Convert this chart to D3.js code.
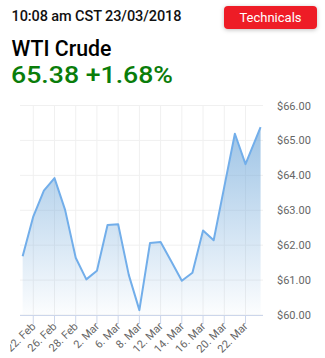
<!DOCTYPE html>
<html>
<head>
<meta charset="utf-8">
<script src="https://cdn.jsdelivr.net/npm/d3@7"></script>
<style>
  body { margin: 0; background: #fff; font-family: Roboto, "Open Sans", sans-serif; }
  svg text { font-family: Roboto, "Open Sans", sans-serif; }
</style>
</head>
<body>
<svg id="chart" width="325" height="358"></svg>
<script>
// trading days shown on the ordinal axis
var days = ["2018-02-21", "2018-02-22", "2018-02-23", "2018-02-26", "2018-02-27", "2018-02-28",
    "2018-03-01", "2018-03-02", "2018-03-05", "2018-03-06", "2018-03-07", "2018-03-08",
    "2018-03-09", "2018-03-12", "2018-03-13", "2018-03-14", "2018-03-15", "2018-03-16",
    "2018-03-19", "2018-03-20", "2018-03-21", "2018-03-22", "2018-03-23"];
var times = ["00:00", "00:00", "00:00", "00:00", "00:00", "00:00", "00:00", "00:00", "00:00",
    "00:00", "00:00", "00:00", "00:00", "00:00", "00:00", "00:00", "00:00", "00:00", "00:00",
    "00:00", "00:00", "00:00", "10:08"];
var prices = [61.68, 62.82, 63.56, 63.92, 63.01, 61.64, 61.02, 61.27, 62.58, 62.60, 61.15, 60.14,
    62.06, 62.09, 61.54, 60.98, 61.21, 62.42, 62.14, 63.67, 65.19, 64.32, 65.38];
var tickDays = ["2018-02-22", "2018-02-26", "2018-02-28", "2018-03-02", "2018-03-06", "2018-03-08",
    "2018-03-12", "2018-03-14", "2018-03-16", "2018-03-20", "2018-03-22"];
var yTicks = [60, 61, 62, 63, 64, 65, 66];

var stamp = "10:08 am CST 23/03/2018";
var title = "WTI Crude";
var quote = "65.38 +1.68%";

var svg = d3.select("#chart");

// ordinal position: index of the trading day + fraction of the day
function ordinal(day, time) {
    var t = time.split(":");
    return days.indexOf(day) + (+t[0] + t[1] / 60) / 24;
}
var data = days.map(function(d, i) {
    return { x: ordinal(d, times[i]), y: prices[i] };
});

var plotLeft = 20, plotRight = 263, plotTop = 105.5, plotBottom = 315;

var x = d3.scaleLinear()
    .domain([-0.25, 22.65])
    .range([plotLeft, plotRight]);
var y = d3.scaleLinear()
    .domain([60, 66])
    .range([plotBottom, plotTop]);

////////////// header
svg.append("text")
    .attr("x", 11.5).attr("y", 21)
    .attr("font-size", 14.5).attr("font-weight", 500)
    .attr("textLength", 170).attr("lengthAdjust", "spacing")
    .attr("fill", "#111")
    .text(stamp);

var defs = svg.append("defs");
var shadow = defs.append("filter").attr("id", "shadow")
    .attr("x", "-20%").attr("y", "-40%").attr("width", "140%").attr("height", "180%");
shadow.append("feDropShadow")
    .attr("dx", 0).attr("dy", 1).attr("stdDeviation", 2)
    .attr("flood-color", "#000").attr("flood-opacity", 0.25);

svg.append("rect")
    .attr("x", 224).attr("y", 6).attr("width", 93).attr("height", 23)
    .attr("rx", 4)
    .attr("fill", "#ee1c25")
    .attr("filter", "url(#shadow)");
svg.append("text")
    .attr("x", 270.5).attr("y", 22)
    .attr("text-anchor", "middle")
    .attr("font-size", 13)
    .attr("fill", "#fff")
    .text("Technicals");

svg.append("text")
    .attr("x", 11.5).attr("y", 55.5)
    .attr("font-size", 22.5).attr("font-weight", 500)
    .attr("textLength", 100).attr("lengthAdjust", "spacingAndGlyphs")
    .attr("fill", "#000")
    .text(title);
svg.append("text")
    .attr("x", 11).attr("y", 82.5)
    .attr("font-size", 24.5).attr("font-weight", 500)
    .attr("textLength", 162).attr("lengthAdjust", "spacingAndGlyphs")
    .attr("fill", "#0a7d0a")
    .text(quote);

////////////// grid
var tickX = tickDays.map(function(d) { return x(ordinal(d, "00:00")); });

svg.append("g")
    .selectAll("line")
    .data(tickX)
    .enter().append("line")
    .attr("x1", function(d) { return d; })
    .attr("x2", function(d) { return d; })
    .attr("y1", plotTop).attr("y2", plotBottom)
    .attr("stroke", "#f0f0f0");

svg.append("g")
    .selectAll("line")
    .data(yTicks)
    .enter().append("line")
    .attr("x1", plotLeft).attr("x2", plotRight)
    .attr("y1", function(d) { return y(d); })
    .attr("y2", function(d) { return y(d); })
    .attr("stroke", "#f0f0f0");

////////////// area + line
var grad = defs.append("linearGradient")
    .attr("id", "fill")
    .attr("gradientUnits", "userSpaceOnUse")
    .attr("x1", 0).attr("x2", 0)
    .attr("y1", plotTop).attr("y2", plotBottom);
grad.append("stop").attr("offset", "0%").attr("stop-color", "#6fa7d9").attr("stop-opacity", 0.75);
grad.append("stop").attr("offset", "100%").attr("stop-color", "#6fa7d9").attr("stop-opacity", 0.02);

var area = d3.area()
    .x(function(d) { return x(d.x); })
    .y0(plotBottom)
    .y1(function(d) { return y(d.y); });
var line = d3.line()
    .x(function(d) { return x(d.x); })
    .y(function(d) { return y(d.y); });

svg.append("path")
    .datum(data)
    .attr("d", area)
    .attr("fill", "url(#fill)");
svg.append("path")
    .datum(data)
    .attr("d", line)
    .attr("fill", "none")
    .attr("stroke", "#72aeea")
    .attr("stroke-width", 2)
    .attr("stroke-linejoin", "round");

////////////// axes
svg.append("line")
    .attr("x1", plotLeft).attr("x2", plotRight)
    .attr("y1", plotBottom + 0.5).attr("y2", plotBottom + 0.5)
    .attr("stroke", "#ccd6eb");

svg.append("g")
    .selectAll("line")
    .data(tickX)
    .enter().append("line")
    .attr("x1", function(d) { return d; })
    .attr("x2", function(d) { return d; })
    .attr("y1", plotBottom).attr("y2", plotBottom + 9)
    .attr("stroke", "#ccd6eb");

defs.append("clipPath").attr("id", "labclip")
    .append("rect").attr("x", 10).attr("y", 300).attr("width", 320).attr("height", 60);

var parse = d3.timeParse("%Y-%m-%d");
var fmt = d3.timeFormat("%-d. %b");
svg.append("g")
    .attr("clip-path", "url(#labclip)")
    .selectAll("text")
    .data(tickDays)
    .enter().append("text")
    .attr("transform", function(d) {
        return "translate(" + (x(ordinal(d, "00:00")) + 3) + "," + (plotBottom + 12) + ") rotate(-45)";
    })
    .attr("text-anchor", "end")
    .attr("font-size", 11)
    .attr("fill", "#666")
    .text(function(d) { return fmt(parse(d)); });

svg.append("g")
    .selectAll("text")
    .data(yTicks)
    .enter().append("text")
    .attr("x", 277)
    .attr("y", function(d) { return y(d) + 4; })
    .attr("font-size", 11)
    .attr("fill", "#666")
    .text(function(d) { return "$" + d3.format(".2f")(d); });
</script>
</body>
</html>
